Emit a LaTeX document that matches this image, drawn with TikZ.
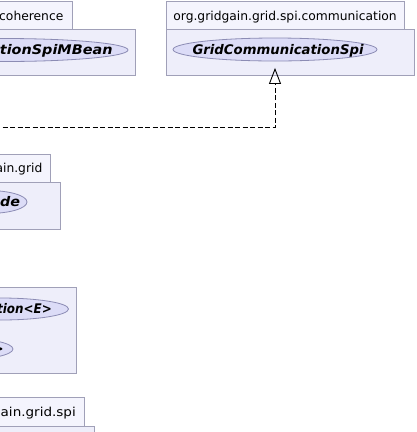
\documentclass[tikz,border=0pt]{standalone}
\usepackage{fontspec}
\usepackage{graphicx}
\setmainfont{DejaVu Sans}
\usetikzlibrary{arrows.meta,shapes.geometric}

\definecolor{pkgline}{HTML}{A0A0B8}
\definecolor{tabfill}{HTML}{F4F4FD}
\definecolor{bodyfill}{HTML}{EEEEFA}
\definecolor{clsfill}{HTML}{DCDCF7}
\definecolor{clsline}{HTML}{8C8CB4}

% labels are set at a fixed height and stretched to the width of their box
\newcommand{\wlabel}[2]{\scalebox{#1}[1]{#2}}

\tikzset{
  pkgtab/.style={draw=pkgline, fill=tabfill, line width=0.8pt},
  pkgbody/.style={draw=pkgline, fill=bodyfill, line width=0.8pt},
  pkglabel/.style={inner sep=0pt, font=\fontsize{12.3}{14}\selectfont},
  clsshape/.style={ellipse, draw=clsline, fill=clsfill, line width=0.8pt, inner sep=0pt},
  clsname/.style={inner sep=0pt, font=\fontsize{13.25}{15}\selectfont\bfseries\itshape},
  realize/.style={draw=black, line width=0.9pt, dash pattern=on 5pt off 2.5pt,
    -{Triangle[open, length=16pt, width=12pt]}}
}

\begin{document}
\begin{tikzpicture}[x=1pt, y=-1pt]
  \useasboundingbox (0,0) rectangle (416,432);
  \clip (0,0) rectangle (416,432);

  % package org.gridgain.grid.spi.coherence
  \draw[pkgtab]  (-220,1.5) rectangle (72.7,29.5);
  \draw[pkgbody] (-220,29.5) rectangle (135,75.5);
  \node[pkglabel, anchor=base east] (p1label) at (63.5,20) {org.gridgain.grid.spi.coherence};
  \node[clsshape, minimum width=248pt, minimum height=23pt] (mbean) at (4,50) {};
  \node[clsname, anchor=base east] (mbeanname) at (112.7,54.5) {\wlabel{1.087}{GridCommunicationSpiMBean}};

  % package org.gridgain.grid.spi.communication
  \draw[pkgtab]  (166,1.5) rectangle (404,29.5);
  \draw[pkgbody] (166,29.5) rectangle (414.5,75.5);
  \node[pkglabel, anchor=base west] (p2label) at (173.2,20.5) {org.gridgain.grid.spi.communication};
  \node[clsshape, minimum width=204pt, minimum height=23pt] (spi) at (275,49.5) {};
  \node[clsname, anchor=base west] (spiname) at (192.3,54) {GridCommunicationSpi};

  % package org.gridgain.grid
  \draw[pkgtab]  (-160,154) rectangle (50.7,182);
  \draw[pkgbody] (-160,182) rectangle (60.7,229);
  \node[pkglabel, anchor=base east] (p3label) at (42.5,172) {org.gridgain.grid};
  \node[clsshape, minimum width=78pt, minimum height=23pt] (gnode) at (-12,202) {};
  \node[clsname, anchor=base east] (gnodename) at (20.3,206.5) {\wlabel{1.08}{GridNode}};

  % package holding the collection types
  \draw[pkgbody] (-220,287) rectangle (76,373);
  \node[clsshape, minimum width=136pt, minimum height=22pt] (coll) at (0.5,309) {};
  \node[clsname, anchor=base east] (collname) at (52,313.5) {\wlabel{0.9}{Collection<E>}};
  \node[clsshape, minimum width=108pt, minimum height=22pt] (iter) at (-41,349) {};
  \node[clsname, anchor=base east] (itername) at (4,353.5) {Iterable<E>};

  % package org.gridgain.grid.spi
  \draw[pkgtab]  (-160,397.7) rectangle (84,426.5);
  \draw[pkgbody] (-160,426.5) rectangle (94,520);
  \node[pkglabel, anchor=base east] (p5label) at (76,416) {\wlabel{1.1}{org.gridgain.grid.spi}};

  % realization towards GridCommunicationSpi
  \coordinate (impl) at (-5,127.5);
  \draw[realize, shorten >=6.5pt] (impl) -| (spi);
\end{tikzpicture}
\end{document}
